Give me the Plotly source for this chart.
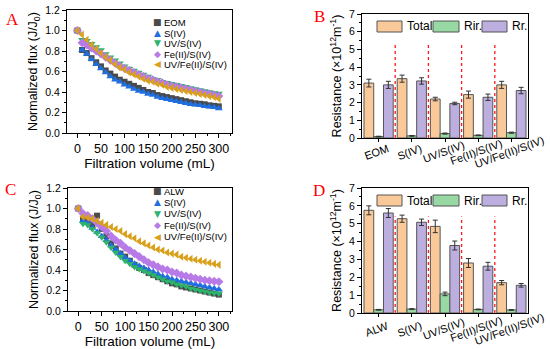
import plotly.graph_objects as go

# ---------------- data ----------------
volume = [0, 10, 20, 30, 40, 50, 60, 70, 80, 90, 100, 110, 120, 130, 140, 150,
          160, 170, 180, 190, 200, 210, 220, 230, 240, 250, 260, 270, 280, 290, 300]

a_names = ["EOM", "S(IV)", "UV/S(IV)", "Fe(II)/S(IV)", "UV/Fe(II)/S(IV)"]
a_eom = [1.00, 0.81, 0.78, 0.73, 0.69, 0.65, 0.61, 0.58, 0.55, 0.52, 0.50, 0.48, 0.46, 0.44, 0.42, 0.40,
         0.39, 0.37, 0.36, 0.35, 0.34, 0.33, 0.32, 0.31, 0.30, 0.29, 0.285, 0.28, 0.27, 0.265, 0.26]
a_s = [1.00, 0.81, 0.77, 0.72, 0.67, 0.63, 0.59, 0.55, 0.52, 0.50, 0.47, 0.45, 0.43, 0.41, 0.40, 0.38,
       0.37, 0.35, 0.34, 0.33, 0.32, 0.31, 0.30, 0.29, 0.28, 0.275, 0.27, 0.26, 0.255, 0.25, 0.24]
a_uvs = [1.00, 0.91, 0.90, 0.87, 0.84, 0.81, 0.77, 0.74, 0.71, 0.68, 0.65, 0.63, 0.61, 0.59, 0.57, 0.55,
         0.53, 0.52, 0.50, 0.49, 0.48, 0.47, 0.46, 0.45, 0.44, 0.43, 0.42, 0.41, 0.40, 0.39, 0.385]
a_fes = [1.00, 0.88, 0.86, 0.83, 0.80, 0.77, 0.74, 0.71, 0.68, 0.65, 0.63, 0.61, 0.59, 0.57, 0.55, 0.53,
         0.52, 0.50, 0.49, 0.47, 0.46, 0.45, 0.44, 0.43, 0.42, 0.41, 0.40, 0.39, 0.38, 0.37, 0.36]
a_uvfes = [1.00, 0.96, 0.91, 0.86, 0.82, 0.78, 0.74, 0.71, 0.67, 0.64, 0.62, 0.59, 0.57, 0.55, 0.53, 0.51,
           0.50, 0.48, 0.47, 0.45, 0.44, 0.43, 0.42, 0.41, 0.40, 0.39, 0.38, 0.37, 0.36, 0.35, 0.335]

c_names = ["ALW", "S(IV)", "UV/S(IV)", "Fe(II)/S(IV)", "UV/Fe(II)/S(IV)"]
c_alw = [1.00, 0.89, 0.88, 0.84, 0.93, 0.80, 0.73, 0.66, 0.61, 0.56, 0.53, 0.49, 0.45, 0.42, 0.40, 0.37,
         0.35, 0.33, 0.31, 0.29, 0.27, 0.26, 0.24, 0.23, 0.22, 0.21, 0.20, 0.19, 0.18, 0.17, 0.16]
c_s = [1.00, 0.88, 0.86, 0.81, 0.77, 0.73, 0.69, 0.64, 0.60, 0.56, 0.52, 0.49, 0.46, 0.44, 0.42, 0.40,
       0.38, 0.36, 0.34, 0.33, 0.31, 0.30, 0.29, 0.28, 0.27, 0.26, 0.25, 0.24, 0.23, 0.22, 0.21]
c_uvs = [1.00, 0.85, 0.84, 0.80, 0.76, 0.72, 0.67, 0.62, 0.57, 0.53, 0.49, 0.46, 0.43, 0.41, 0.39, 0.37,
         0.35, 0.33, 0.31, 0.29, 0.28, 0.26, 0.25, 0.24, 0.22, 0.21, 0.20, 0.19, 0.18, 0.175, 0.17]
c_fes = [1.00, 0.95, 0.93, 0.90, 0.86, 0.82, 0.78, 0.73, 0.69, 0.66, 0.62, 0.59, 0.56, 0.53, 0.50, 0.47,
         0.45, 0.43, 0.41, 0.40, 0.38, 0.37, 0.35, 0.34, 0.33, 0.32, 0.31, 0.30, 0.295, 0.29, 0.285]
c_uvfes = [1.00, 0.92, 0.91, 0.90, 0.88, 0.86, 0.84, 0.82, 0.80, 0.78, 0.75, 0.73, 0.71, 0.68, 0.66, 0.64,
           0.62, 0.60, 0.59, 0.57, 0.56, 0.55, 0.53, 0.52, 0.51, 0.50, 0.49, 0.48, 0.47, 0.46, 0.45]

b_cats = ["EOM", "S(IV)", "UV/S(IV)", "Fe(II)/S(IV)", "UV/Fe(II)/S(IV)"]
b_total = [3.10, 3.35, 2.20, 2.45, 3.00]
b_total_err = [0.22, 0.20, 0.10, 0.20, 0.20]
b_rir = [0.08, 0.12, 0.25, 0.15, 0.30]
b_rir_err = [0.02, 0.02, 0.03, 0.02, 0.03]
b_rr = [3.00, 3.22, 1.95, 2.30, 2.68]
b_rr_err = [0.20, 0.18, 0.07, 0.18, 0.18]

d_cats = ["ALW", "S(IV)", "UV/S(IV)", "Fe(II)/S(IV)", "UV/Fe(II)/S(IV)"]
d_total = [5.75, 5.28, 4.85, 2.80, 1.70]
d_total_err = [0.25, 0.20, 0.35, 0.25, 0.12]
d_rir = [0.18, 0.22, 1.07, 0.20, 0.17]
d_rir_err = [0.02, 0.02, 0.10, 0.02, 0.02]
d_rr = [5.60, 5.08, 3.78, 2.62, 1.55]
d_rr_err = [0.25, 0.18, 0.25, 0.22, 0.10]

bar_names = ["Total", "Rir.", "Rr."]
divider_top = 5.4

# ---------------- styles ----------------
W, H = 550, 349
FONT = "Liberation Sans, Arial, sans-serif"
SERIF = "Liberation Serif, Times New Roman, serif"
line_colors = ["#4a4a4a", "#1f6fe0", "#2db36b", "#b77ae6", "#d9a01a"]
line_symbols = ["square", "triangle-up", "triangle-down", "diamond", "triangle-left"]
line_sizes = [6, 7, 7, 7, 7]
glyphs = ["\u25A0", "\u25B2", "\u25BC", "\u25C6", "\u25C0"]
bar_colors = ["#f9c99a", "#98d8a2", "#bdaee0"]


def px(x):
    return x / W


def py(y):
    return 1 - y / H


fig = go.Figure()

# line panels
for series, axes in [([a_eom, a_s, a_uvs, a_fes, a_uvfes], ("x", "y")),
                     ([c_alw, c_s, c_uvs, c_fes, c_uvfes], ("x3", "y3"))]:
    for i, vals in enumerate(series):
        fig.add_trace(go.Scatter(
            x=volume, y=vals, mode="markers", showlegend=False,
            xaxis=axes[0], yaxis=axes[1],
            marker=dict(symbol=line_symbols[i], size=line_sizes[i], color=line_colors[i],
                        line=dict(width=0))))

# bar panels
for cats, groups, axes in [
    (b_cats, [(b_total, b_total_err), (b_rir, b_rir_err), (b_rr, b_rr_err)], ("x2", "y2")),
    (d_cats, [(d_total, d_total_err), (d_rir, d_rir_err), (d_rr, d_rr_err)], ("x4", "y4")),
]:
    for i, (vals, errs) in enumerate(groups):
        fig.add_trace(go.Bar(
            x=cats, y=vals, name=bar_names[i], showlegend=False,
            xaxis=axes[0], yaxis=axes[1],
            marker=dict(color=bar_colors[i], line=dict(color="#555555", width=1)),
            error_y=dict(type="data", array=errs, color="#333333", thickness=1, width=2.5)))

axis_common = dict(showline=True, linecolor="black", linewidth=1, mirror=True,
                   ticks="outside", ticklen=4, tickcolor="black", showgrid=False,
                   zeroline=False, automargin=False)

line_x = dict(axis_common, range=[-22, 328], tickvals=[0, 50, 100, 150, 200, 250, 300],
              tickfont=dict(size=12.5, family=FONT, color="black"),
              minor=dict(ticks="outside", ticklen=2, dtick=25, tick0=0, tickcolor="black"),
              title=dict(text="Filtration volume (mL)", font=dict(size=13.5, family=FONT, color="black"),
                         standoff=0))
line_y = dict(axis_common, range=[0, 1.2], dtick=0.2, tickformat=".1f",
              tickfont=dict(size=10.5, family=FONT, color="black"),
              minor=dict(ticks="outside", ticklen=2, dtick=0.1, tickcolor="black"),
              title=dict(text="Normalized flux (J/J<sub>0</sub>)", font=dict(size=12.5, family=FONT, color="black"),
                         standoff=4))
bar_x = dict(axis_common, range=[-0.5, 4.5], showticklabels=False, ticklen=3)
bar_y = dict(axis_common, range=[0, 7], dtick=1,
             tickfont=dict(size=10.5, family=FONT, color="black"),
             minor=dict(ticks="outside", ticklen=2, dtick=0.5, tickcolor="black"),
             title=dict(text="Resistance (\u00d710<sup>12</sup>m<sup>-1</sup>)",
                        font=dict(size=12.5, family=FONT, color="black"), standoff=4))

fig.update_layout(
    width=W, height=H, margin=dict(l=0, r=0, t=0, b=0, autoexpand=False),
    paper_bgcolor="white", plot_bgcolor="white",
    font=dict(family=FONT, color="black"),
    barmode="group", bargap=0.12, bargroupgap=0,
    xaxis=dict(line_x, domain=[px(67), px(232)], anchor="y"),
    yaxis=dict(line_y, domain=[py(133), py(10)], anchor="x"),
    xaxis3=dict(line_x, domain=[px(68), px(232)], anchor="y3"),
    yaxis3=dict(line_y, domain=[py(311), py(188)], anchor="x3"),
    xaxis2=dict(bar_x, domain=[px(362), px(528)], anchor="y2"),
    yaxis2=dict(bar_y, domain=[py(138), py(14)], anchor="x2"),
    xaxis4=dict(bar_x, domain=[px(362), px(528)], anchor="y4"),
    yaxis4=dict(bar_y, domain=[py(313), py(188)], anchor="x4"),
)

shapes = []
annotations = []

# red dashed dividers
for xa, ya, cats in [("x2", "y2", b_cats), ("x4", "y4", d_cats)]:
    for k in range(len(cats) - 1):
        shapes.append(dict(type="line", xref=xa, yref=ya, x0=k + 0.5, x1=k + 0.5, y0=0, y1=divider_top,
                           line=dict(color="#ff1a1a", width=1.3, dash="dot")))

# rotated category labels for bar panels
for xa, cats, ycenter in [("x2", b_cats, 152), ("x4", d_cats, 329)]:
    for c in cats:
        annotations.append(dict(x=c, xref=xa, y=py(ycenter), yref="paper", text=c, showarrow=False,
                                textangle=-20, xanchor="center", yanchor="middle", xshift=-2,
                                font=dict(size=11, family=FONT, color="black")))

# legends for bar panels
sw = [(377, 402, 405), (433, 459, 462), (482, 507, 510)]
for top in [21, 195]:
    for i, (x0, x1, xt) in enumerate(sw):
        shapes.append(dict(type="rect", xref="paper", yref="paper", x0=px(x0), x1=px(x1),
                           y0=py(top + 11), y1=py(top), fillcolor=bar_colors[i],
                           line=dict(color="#555555", width=1)))
        annotations.append(dict(x=px(xt), y=py(top + 5.5), xref="paper", yref="paper", text=bar_names[i],
                                showarrow=False, xanchor="left", yanchor="middle",
                                font=dict(size=12, family=FONT, color="black")))

# legends for line panels
for names, y0, step in [(a_names, 22.5, 10.5), (c_names, 191, 11.4)]:
    for i, n in enumerate(names):
        yy = y0 + i * step
        annotations.append(dict(x=px(157), y=py(yy), xref="paper", yref="paper", text=glyphs[i],
                                showarrow=False, xanchor="center", yanchor="middle",
                                font=dict(size=9, family="DejaVu Sans", color=line_colors[i])))
        annotations.append(dict(x=px(162), y=py(yy), xref="paper", yref="paper", text=n,
                                showarrow=False, xanchor="left", yanchor="middle",
                                font=dict(size=9.5, family=FONT, color="black")))

# panel letters
for letter, x, y in [("A", 12, 19), ("B", 319, 16), ("C", 10, 189), ("D", 319, 190)]:
    annotations.append(dict(x=px(x), y=py(y), xref="paper", yref="paper", text=letter, showarrow=False,
                            xanchor="center", yanchor="middle",
                            font=dict(size=17, family=SERIF, color="#ff0000")))

fig.update_layout(shapes=shapes, annotations=annotations)
fig.write_html("out.html", config={"displayModeBar": False},
               post_script="document.body.style.margin='0';document.body.style.overflow='hidden';")
